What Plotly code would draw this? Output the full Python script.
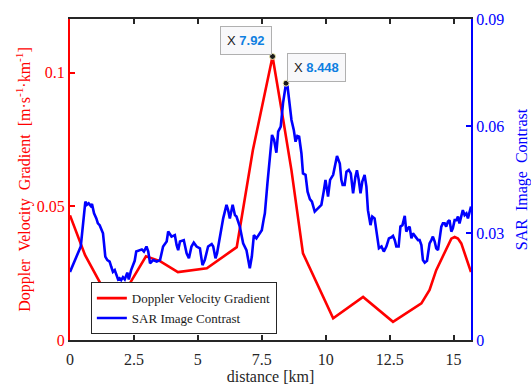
import plotly.graph_objects as go

# Doppler velocity gradient profile (left axis)
doppler_km = [0.00, 0.59, 1.29, 1.72, 2.23, 2.97, 3.52, 4.22, 5.35, 6.52, 7.15, 7.92,
              8.33, 8.66, 9.11, 10.29, 11.46, 12.63, 13.74, 14.06, 14.32, 14.78,
              14.91, 15.04, 15.17, 15.30, 15.68]
doppler_grad = [0.0466, 0.0317, 0.0194, 0.0118, 0.0194, 0.0313, 0.0295, 0.0254, 0.0268,
                0.0347, 0.0709, 0.1060, 0.0827, 0.0634, 0.0324, 0.0081, 0.0161, 0.0068,
                0.0137, 0.0187, 0.0261, 0.0354, 0.0379, 0.0385, 0.0379, 0.0361, 0.0254]

# SAR image contrast profile (right axis)
sar_km = [0.00, 0.42, 0.60, 0.66, 0.73, 0.81, 0.86, 0.94, 1.03, 1.09, 1.16, 1.22, 1.29,
          1.33, 1.38, 1.46, 1.55, 1.61, 1.68, 1.75, 1.81, 1.88, 1.94, 2.00, 2.07, 2.14,
          2.24, 2.30, 2.39, 2.46, 2.53, 2.59, 2.72, 2.81, 2.89, 2.99, 3.06, 3.13, 3.25,
          3.39, 3.52, 3.64, 3.78, 3.84, 3.97, 4.10, 4.17, 4.23, 4.30, 4.45, 4.56, 4.65,
          4.75, 4.84, 4.95, 5.08, 5.18, 5.27, 5.40, 5.54, 5.60, 5.69, 5.75, 5.86, 5.99,
          6.12, 6.18, 6.25, 6.36, 6.45, 6.51, 6.64, 6.77, 6.90, 7.03, 7.11, 7.19, 7.29,
          7.42, 7.50, 7.58, 7.62, 7.72, 7.81, 7.90, 7.98, 8.07, 8.14, 8.24, 8.33, 8.448,
          8.50, 8.57, 8.66, 8.75, 8.82, 8.89, 8.96, 9.05, 9.11, 9.21, 9.29, 9.38, 9.46,
          9.57, 9.68, 9.77, 9.83, 9.92, 9.99, 10.09, 10.17, 10.29, 10.35, 10.44, 10.55,
          10.61, 10.66, 10.74, 10.81, 10.90, 10.98, 11.07, 11.16, 11.22, 11.29, 11.36,
          11.43, 11.52, 11.59, 11.65, 11.75, 11.82, 11.91, 11.98, 12.08, 12.18, 12.27,
          12.37, 12.47, 12.57, 12.63, 12.70, 12.76, 12.85, 12.92, 13.00, 13.09, 13.15,
          13.21, 13.28, 13.35, 13.41, 13.52, 13.61, 13.67, 13.74, 13.80, 13.87, 13.96,
          14.02, 14.06, 14.13, 14.19, 14.26, 14.32, 14.39, 14.45, 14.52, 14.58, 14.65,
          14.71, 14.78, 14.84, 14.91, 14.97, 15.04, 15.11, 15.17, 15.23, 15.30, 15.36,
          15.43, 15.50, 15.56, 15.63, 15.68]
sar_contrast = [0.0191, 0.0262, 0.0388, 0.0379, 0.0383, 0.0376, 0.0381, 0.0355, 0.0341,
                0.0327, 0.0322, 0.0313, 0.0299, 0.0271, 0.0234, 0.0224, 0.0220, 0.0206,
                0.0191, 0.0196, 0.0182, 0.0170, 0.0173, 0.0168, 0.0176, 0.0170, 0.0189,
                0.0170, 0.0196, 0.0210, 0.0222, 0.0248, 0.0251, 0.0254, 0.0248, 0.0262,
                0.0248, 0.0215, 0.0224, 0.0220, 0.0224, 0.0262, 0.0276, 0.0304, 0.0290,
                0.0294, 0.0266, 0.0252, 0.0276, 0.0280, 0.0243, 0.0229, 0.0262, 0.0273,
                0.0262, 0.0257, 0.0210, 0.0224, 0.0262, 0.0269, 0.0262, 0.0229, 0.0243,
                0.0290, 0.0341, 0.0379, 0.0365, 0.0341, 0.0379, 0.0350, 0.0346, 0.0318,
                0.0271, 0.0252, 0.0201, 0.0234, 0.0294, 0.0285, 0.0299, 0.0308, 0.0341,
                0.0355, 0.0439, 0.0505, 0.0575, 0.0561, 0.0525, 0.0584, 0.0598, 0.0664,
                0.0720, 0.0715, 0.0664, 0.0617, 0.0589, 0.0556, 0.0572, 0.0570, 0.0523,
                0.0467, 0.0463, 0.0416, 0.0395, 0.0388, 0.0360, 0.0369, 0.0376, 0.0379,
                0.0416, 0.0449, 0.0402, 0.0449, 0.0463, 0.0486, 0.0516, 0.0495, 0.0449,
                0.0435, 0.0435, 0.0472, 0.0477, 0.0467, 0.0411, 0.0458, 0.0476, 0.0449,
                0.0411, 0.0444, 0.0463, 0.0430, 0.0364, 0.0322, 0.0346, 0.0341, 0.0308,
                0.0257, 0.0262, 0.0248, 0.0262, 0.0285, 0.0288, 0.0292, 0.0280, 0.0262,
                0.0262, 0.0318, 0.0322, 0.0348, 0.0304, 0.0313, 0.0318, 0.0285, 0.0299,
                0.0290, 0.0280, 0.0280, 0.0266, 0.0224, 0.0217, 0.0222, 0.0262, 0.0271,
                0.0280, 0.0290, 0.0276, 0.0257, 0.0252, 0.0280, 0.0318, 0.0327, 0.0327,
                0.0318, 0.0332, 0.0336, 0.0304, 0.0313, 0.0336, 0.0336, 0.0346, 0.0327,
                0.0350, 0.0364, 0.0350, 0.0355, 0.0341, 0.0364, 0.0374]

x_ticks = [0, 2.5, 5, 7.5, 10, 12.5, 15]
left_ticks = [0, 0.05, 0.1]
right_ticks = [0, 0.03, 0.06, 0.09]

# data tips placed on the two peaks
tip_doppler = (7.92, 0.1060)
tip_sar = (8.448, 0.0720)

RED = "#ff0000"
BLUE = "#0000ff"
SERIF = "Liberation Serif"
SANS = "Liberation Sans"

fig = go.Figure()
fig.add_trace(go.Scatter(
    x=doppler_km, y=doppler_grad, mode="lines", name="Doppler Velocity Gradient",
    line=dict(color=RED, width=2.6), yaxis="y"))
fig.add_trace(go.Scatter(
    x=sar_km, y=sar_contrast, mode="lines", name="SAR Image Contrast",
    line=dict(color=BLUE, width=2.6), yaxis="y2"))

# data tip markers
fig.add_trace(go.Scatter(
    x=[tip_doppler[0]], y=[tip_doppler[1]], mode="markers", showlegend=False,
    marker=dict(color="#1a1a1a", size=6, line=dict(color="#f3f0b0", width=1)), yaxis="y"))
fig.add_trace(go.Scatter(
    x=[tip_sar[0]], y=[tip_sar[1]], mode="markers", showlegend=False,
    marker=dict(color="#1a1a1a", size=6, line=dict(color="#f3f0b0", width=1)), yaxis="y2"))

tip_style = dict(showarrow=False, bgcolor="#f8f8fa", bordercolor="#b0b0b0",
                 borderwidth=1, borderpad=6,
                 font=dict(family=SANS, size=13, color="#1a1a1a"))
fig.add_annotation(
    x=tip_doppler[0], y=tip_doppler[1], xref="x", yref="y",
    xanchor="right", yanchor="bottom", xshift=-1, yshift=1,
    text="X <span style='color:#0e7fe1'><b>%g</b></span>" % tip_doppler[0], **tip_style)
fig.add_annotation(
    x=tip_sar[0], y=tip_sar[1], xref="x", yref="y2",
    xanchor="left", yanchor="bottom", xshift=1, yshift=1,
    text="X <span style='color:#0e7fe1'><b>%g</b></span>" % tip_sar[0], **tip_style)

fig.update_layout(
    width=531, height=385,
    margin=dict(l=70, r=60, t=19, b=45, autoexpand=False),
    paper_bgcolor="white", plot_bgcolor="white",
    font=dict(family=SERIF, size=16, color="#262626"),
    xaxis=dict(
        range=[0, 15.68], tickvals=x_ticks, ticks="inside", ticklen=5, tickwidth=1.5,
        tickcolor="#262626", showline=True, linecolor="#262626", linewidth=2,
        mirror="ticks", showgrid=False, zeroline=False, ticklabelstandoff=4,
        automargin=True,
        tickfont=dict(family=SERIF, size=16, color="#262626"),
        title=dict(text="distance [km]", font=dict(family=SERIF, size=16, color="#262626"),
                   standoff=1)),
    yaxis=dict(
        range=[0, 0.12], tickvals=left_ticks, ticks="inside", ticklen=5, tickwidth=1.5,
        tickcolor=RED, showline=True, linecolor=RED, linewidth=2,
        showgrid=False, zeroline=False, automargin=False,
        tickfont=dict(family=SERIF, size=16, color=RED),
        title=dict(text="Doppler&nbsp; Velocity&nbsp; Gradient&nbsp; [m·s<sup>-1</sup>·km<sup>-1</sup>]",
                   font=dict(family=SERIF, size=16, color=RED), standoff=2)),
    yaxis2=dict(
        range=[0, 0.09], tickvals=right_ticks, ticks="inside", ticklen=5, tickwidth=1.5,
        tickcolor=BLUE, showline=True, linecolor=BLUE, linewidth=2,
        overlaying="y", side="right", showgrid=False, zeroline=False, automargin=False,
        tickfont=dict(family=SERIF, size=16, color=BLUE),
        title=dict(text="SAR&nbsp; Image&nbsp; Contrast",
                   font=dict(family=SERIF, size=16, color=BLUE), standoff=20)),
    legend=dict(
        x=0.052, y=0.18, xanchor="left", yanchor="top",
        bgcolor="white", bordercolor="#262626", borderwidth=1,
        font=dict(family=SERIF, size=13, color="#1a1a1a"),
        tracegroupgap=0, itemwidth=30),
)

fig.write_html("out.html")
